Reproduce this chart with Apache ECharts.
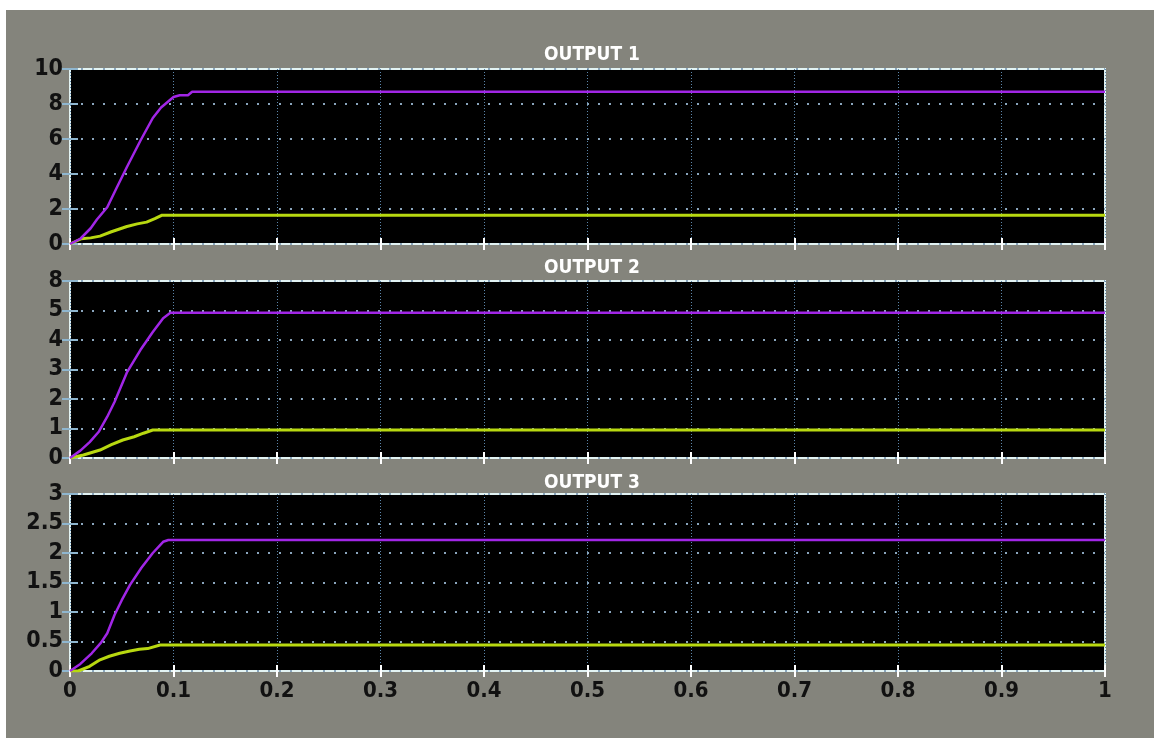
<!DOCTYPE html>
<html>
<head>
<meta charset="utf-8">
<script src="https://cdn.jsdelivr.net/npm/echarts@6/dist/echarts.min.js"></script>
<style>
html,body{margin:0;padding:0;background:#ffffff;}
#chart{width:1154px;height:741px;}
</style>
</head>
<body>
<div id="chart"></div>
<script>
// ---- data ----
var panelTitles = ['OUTPUT 1', 'OUTPUT 2', 'OUTPUT 3'];
var xTickLabels = ['0','0.1','0.2','0.3','0.4','0.5','0.6','0.7','0.8','0.9','1'];

var y1TickLabels = ['0','2','4','6','8','10'];
var y2TickLabels = ['0','1','2','3','4','5','8'];
var y3TickLabels = ['0','0.5','1','1.5','2','2.5','3'];

// OUTPUT 1
var out1PurpleT = [0, 0.010, 0.020, 0.026, 0.036, 0.045, 0.055, 0.068, 0.080, 0.088, 0.096, 0.100, 0.106, 0.114, 0.118, 1.0];
var out1PurpleV = [0, 0.3, 0.9, 1.4, 2.1, 3.2, 4.4, 5.9, 7.2, 7.8, 8.2, 8.4, 8.5, 8.5, 8.7, 8.7];
var out1YellowT = [0, 0.011, 0.020, 0.029, 0.040, 0.055, 0.065, 0.074, 0.082, 0.089, 1.0];
var out1YellowV = [0, 0.3, 0.35, 0.45, 0.7, 1.0, 1.15, 1.25, 1.45, 1.65, 1.65];

// OUTPUT 2
var out2PurpleT = [0, 0.010, 0.019, 0.028, 0.036, 0.043, 0.055, 0.068, 0.080, 0.090, 0.097, 1.0];
var out2PurpleV = [0, 0.25, 0.54, 0.9, 1.4, 1.9, 2.9, 3.66, 4.27, 4.74, 4.92, 4.92];
var out2YellowT = [0, 0.013, 0.029, 0.040, 0.051, 0.062, 0.071, 0.080, 1.0];
var out2YellowV = [0, 0.1, 0.27, 0.45, 0.61, 0.72, 0.84, 0.95, 0.95];

// OUTPUT 3
var out3PurpleT = [0, 0.010, 0.021, 0.030, 0.036, 0.043, 0.050, 0.058, 0.069, 0.080, 0.090, 0.095, 1.0];
var out3PurpleV = [0, 0.12, 0.3, 0.48, 0.64, 0.95, 1.2, 1.46, 1.75, 2.0, 2.19, 2.22, 2.22];
var out3YellowT = [0, 0.008, 0.019, 0.029, 0.038, 0.048, 0.058, 0.067, 0.075, 0.087, 1.0];
var out3YellowV = [0, 0.0, 0.08, 0.19, 0.25, 0.3, 0.34, 0.37, 0.38, 0.44, 0.44];

var yMax = [10, 6, 3];
var yStep = [2, 1, 0.5];
// ---- end data ----

function pairs(t, v){ return t.map(function(x,i){ return [x, v[i]]; }); }

var FONT = "'Liberation Sans Narrow', 'DejaVu Sans Condensed', sans-serif";
var PURPLE = '#a126e6';
var YELLOW = '#b8d810';

var grids = [
  {left:70, right:49, top:69, height:175},
  {left:70, right:49, top:281, height:177},
  {left:70, right:49, top:494, height:177}
];
var titleTops = [41, 254, 469];
var yLabelSets = [y1TickLabels, y2TickLabels, y3TickLabels];
var seriesSets = [
  [pairs(out1PurpleT,out1PurpleV), pairs(out1YellowT,out1YellowV)],
  [pairs(out2PurpleT,out2PurpleV), pairs(out2YellowT,out2YellowV)],
  [pairs(out3PurpleT,out3PurpleV), pairs(out3YellowT,out3YellowV)]
];

var option = {
  backgroundColor: '#ffffff',
  animation: false,
  graphic: [{
    type: 'rect', z: -10, silent: true,
    shape: {x: 6, y: 10, width: 1148, height: 728},
    style: {fill: '#84847c'}
  }],
  title: [], grid: [], xAxis: [], yAxis: [], series: []
};

grids.forEach(function(g, i){
  option.grid.push({
    left: g.left, right: g.right, top: g.top, height: g.height,
    show: true, backgroundColor: '#000000', borderColor: '#e2f3f3', borderWidth: 2
  });
  option.title.push({
    text: panelTitles[i], left: 587, top: titleTops[i], textAlign: 'center',
    textStyle: {color: '#ffffff', fontFamily: FONT, fontWeight: 'bold', fontSize: 19}
  });
  option.xAxis.push({
    type: 'value', gridIndex: i, min: 0, max: 1, interval: 0.1, position: 'bottom',
    axisLine: {show: false},
    axisTick: {show: true, inside: true, length: 6, lineStyle: {color: '#ffffff', width: 2}},
    axisLabel: {
      show: i === 2, margin: 9, color: '#111111', fontFamily: FONT, fontWeight: 'bold', fontSize: 22,
      formatter: function(v){ return xTickLabels[Math.round(v*10)]; }
    },
    splitLine: {show: true, lineStyle: {color: '#5c86aa', width: 1, type: [1, 2]}}
  });
  option.xAxis.push({
    type: 'value', gridIndex: i, min: 0, max: 1, interval: 0.1, position: 'top',
    axisLine: {show: false},
    axisTick: {show: true, inside: true, length: 6, lineStyle: {color: '#ffffff', width: 2}},
    axisLabel: {show: false}, splitLine: {show: false}
  });
  var labels = yLabelSets[i];
  var step = yStep[i];
  option.yAxis.push({
    type: 'value', gridIndex: i, min: 0, max: yMax[i], interval: step, position: 'left',
    axisLine: {show: false},
    axisTick: {show: true, inside: true, length: 8, lineStyle: {color: '#8fb6cf', width: 2}},
    axisLabel: {
      show: true, margin: 7, color: '#111111', fontFamily: FONT, fontWeight: 'bold', fontSize: 23,
      formatter: function(v){ return labels[Math.round(v/step)]; }
    },
    splitLine: {show: true, lineStyle: {color: '#8aa6bd', width: 2, type: [2, 9]}}
  });
  option.yAxis.push({
    type: 'value', gridIndex: i, min: 0, max: yMax[i], interval: step, position: 'right',
    axisLine: {show: false},
    axisTick: {show: true, inside: true, length: 8, lineStyle: {color: '#8fb6cf', width: 2}},
    axisLabel: {show: false}, splitLine: {show: false}
  });
  option.series.push({
    type: 'line', xAxisIndex: i*2, yAxisIndex: i*2, data: seriesSets[i][1],
    showSymbol: false, lineStyle: {color: YELLOW, width: 3}, z: 3
  });
  option.series.push({
    type: 'line', xAxisIndex: i*2, yAxisIndex: i*2, data: seriesSets[i][0],
    showSymbol: false, lineStyle: {color: PURPLE, width: 2.5}, z: 4
  });
});

var chart = echarts.init(document.getElementById('chart'));
chart.setOption(option);
</script>
</body>
</html>
